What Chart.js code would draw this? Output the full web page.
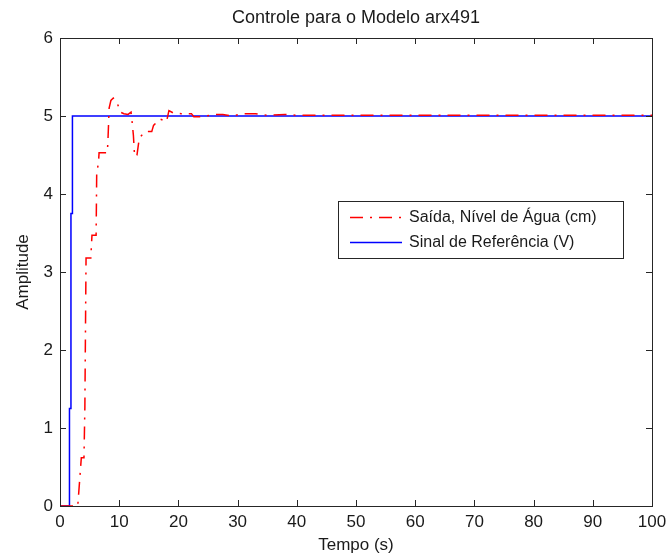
<!DOCTYPE html>
<html>
<head>
<meta charset="utf-8">
<script src="https://cdn.jsdelivr.net/npm/chart.js@4.4.0/dist/chart.umd.min.js"></script>
<style>
  html, body { margin: 0; padding: 0; background: #fff; }
  #plot { display: block; }
</style>
</head>
<body>
<canvas id="plot" width="668" height="557"></canvas>
<script>
// reference signal (V)
var refTime  = [0, 1.6, 1.6, 1.85, 1.85, 2.1, 2.1, 100];
var refLevel = [0, 0, 1.25, 1.25, 3.75, 3.75, 5, 5];

// measured water level (cm)
var outTime  = [0, 3.0, 3.6, 4.05, 4.2, 4.4, 5.2, 5.4, 6.1, 6.2, 6.5, 6.6, 8.0, 8.1, 8.3, 8.6, 9.0, 9.6,
                10.2, 10.8, 11.5, 12.0, 12.2, 12.4, 12.6, 13.0, 13.4, 14.4, 15.5, 15.8, 16.9, 18.0, 18.4,
                19.1, 20.5, 22.2, 22.6, 24, 26, 27.5, 29, 31, 33, 35, 38, 40, 45, 50, 100];
var outLevel = [0, 0, 0.62, 0.62, 1.26, 3.18, 3.18, 3.47, 3.47, 4.27, 4.4, 4.53, 4.53, 4.69, 5.1, 5.2, 5.23, 5.18,
                5.05, 5.03, 5.02, 5.05, 4.91, 4.75, 4.48, 4.5, 4.72, 4.8, 4.8, 4.88, 4.96, 4.93, 5.07,
                5.04, 5.03, 5.03, 4.99, 4.99, 5.02, 5.02, 5.0, 5.03, 5.03, 5.01, 5.02, 5.01, 5.01, 5.01, 5.01];

var xTicks = [0, 10, 20, 30, 40, 50, 60, 70, 80, 90, 100];
var yTicks = [0, 1, 2, 3, 4, 5, 6];
var seriesNames = ['Saída, Nível de Água (cm)', 'Sinal de Referência (V)'];

var sans = "'Liberation Sans', Arial, sans-serif";
var ink = '#1a1a1a';

function pairs(xs, ys) {
    return xs.map(function (x, i) { return { x: x, y: ys[i] }; });
}

// box, inward ticks, title and legend in the matlab look
var matlabFrame = {
    id: 'matlabFrame',
    afterDraw: function (chart) {
        var ctx = chart.ctx;
        var a = chart.chartArea;
        var xs = chart.scales.x, ys = chart.scales.y;
        ctx.save();
        ctx.strokeStyle = '#262626';
        ctx.lineWidth = 1;
        ctx.beginPath();
        xTicks.forEach(function (v) {
            var px = Math.round(xs.getPixelForValue(v)) + 0.5;
            ctx.moveTo(px, a.bottom); ctx.lineTo(px, a.bottom - 6);
            ctx.moveTo(px, a.top); ctx.lineTo(px, a.top + 6);
        });
        yTicks.forEach(function (v) {
            var py = Math.round(ys.getPixelForValue(v)) + 0.5;
            ctx.moveTo(a.left, py); ctx.lineTo(a.left + 6, py);
            ctx.moveTo(a.right, py); ctx.lineTo(a.right - 6, py);
        });
        ctx.stroke();
        ctx.strokeRect(Math.round(a.left) + 0.5, Math.round(a.top) + 0.5,
                       Math.round(a.right - a.left), Math.round(a.bottom - a.top));

        // title
        ctx.fillStyle = ink;
        ctx.font = '18px ' + sans;
        ctx.textAlign = 'center';
        ctx.textBaseline = 'middle';
        ctx.fillText('Controle para o Modelo arx491', (a.left + a.right) / 2, 18);

        // legend box
        var bx = 338, by = 201, bw = 285, bh = 57;
        ctx.fillStyle = '#fff';
        ctx.fillRect(bx, by, bw, bh);
        ctx.strokeStyle = '#262626';
        ctx.strokeRect(bx + 0.5, by + 0.5, bw, bh);
        var ds = chart.data.datasets;
        [217, 242].forEach(function (ly, i) {
            ctx.strokeStyle = ds[i].borderColor;
            ctx.lineWidth = ds[i].borderWidth;
            ctx.setLineDash(ds[i].borderDash || []);
            ctx.beginPath();
            ctx.moveTo(350, ly + 0.5); ctx.lineTo(402, ly + 0.5);
            ctx.stroke();
            ctx.setLineDash([]);
            ctx.fillStyle = ink;
            ctx.font = '16px ' + sans;
            ctx.textAlign = 'left';
            ctx.textBaseline = 'middle';
            ctx.fillText(seriesNames[i], 409, ly + 1);
        });
        ctx.restore();
    }
};

var ctx = document.getElementById('plot').getContext('2d');
var chart = new Chart(ctx, {
    type: 'line',
    data: {
        datasets: [{
            label: seriesNames[0],
            data: pairs(outTime, outLevel),
            borderColor: '#ff0000',
            borderWidth: 1.5,
            borderDash: [13, 7, 2, 7],
            pointRadius: 0,
            tension: 0,
            fill: false
        }, {
            label: seriesNames[1],
            data: pairs(refTime, refLevel),
            borderColor: '#0000ff',
            borderWidth: 1.5,
            pointRadius: 0,
            tension: 0,
            fill: false
        }]
    },
    options: {
        responsive: false,
        animation: false,
        layout: { padding: { top: 38, right: 16, left: 0, bottom: 0 } },
        plugins: {
            legend: { display: false },
            title: { display: false },
            tooltip: { enabled: false }
        },
        scales: {
            x: {
                type: 'linear',
                min: 0,
                max: 100,
                afterFit: function (s) { s.height = 51; s.paddingLeft = 0; s.paddingRight = 0; },
                afterBuildTicks: function (s) { s.ticks = xTicks.map(function (v) { return { value: v }; }); },
                grid: { display: false, drawTicks: false },
                border: { display: false },
                ticks: { color: ink, padding: 6, maxRotation: 0, font: { family: sans, size: 17 } },
                title: { display: true, text: 'Tempo (s)', color: ink, padding: { top: 0, bottom: 1 },
                         font: { family: sans, size: 17 } }
            },
            y: {
                type: 'linear',
                min: 0,
                max: 6,
                afterFit: function (s) { s.width = 60; s.paddingTop = 0; s.paddingBottom = 0; },
                afterBuildTicks: function (s) { s.ticks = yTicks.map(function (v) { return { value: v }; }); },
                grid: { display: false, drawTicks: false },
                border: { display: false },
                ticks: { color: ink, padding: 7, font: { family: sans, size: 17 } },
                title: { display: true, text: 'Amplitude', color: ink, padding: { top: 13, bottom: 0 },
                         font: { family: sans, size: 17 } }
            }
        }
    },
    plugins: [matlabFrame]
});
</script>
</body>
</html>
